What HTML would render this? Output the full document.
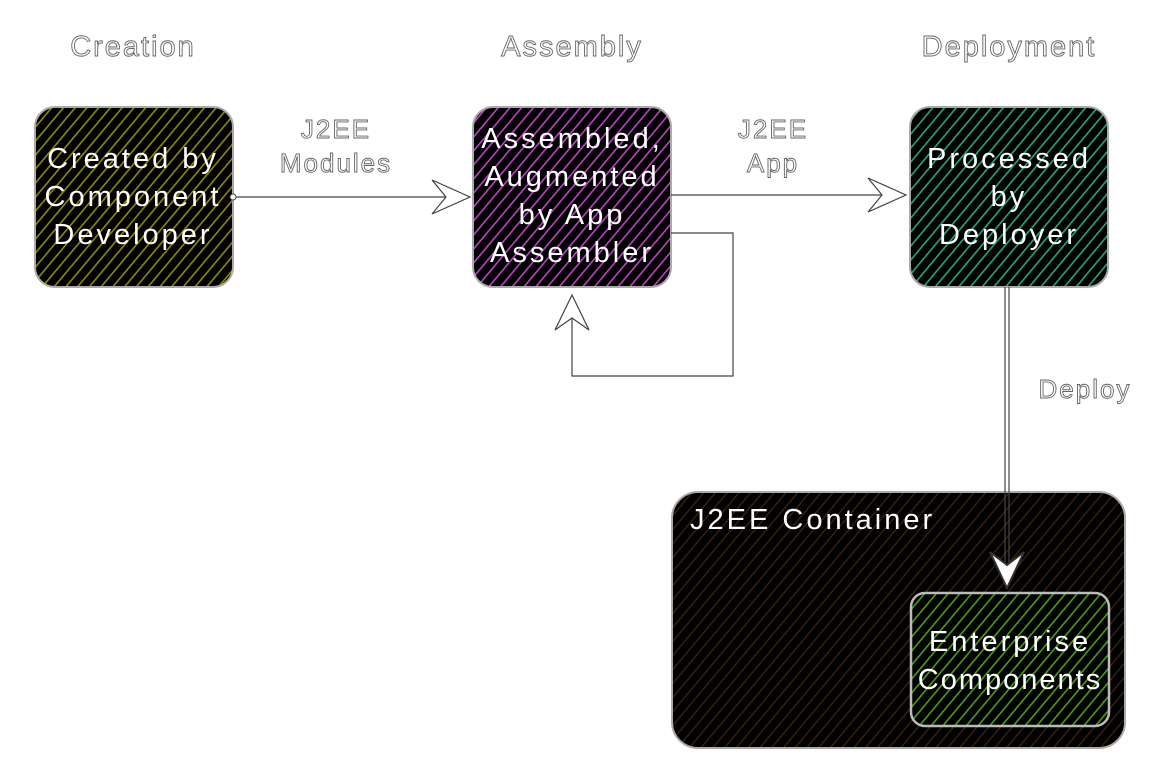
<!DOCTYPE html>
<html><head><meta charset="utf-8"><style>
html,body{margin:0;padding:0;background:#fff;}
svg{display:block;}
text{font-family:"Liberation Sans",sans-serif;}
.lbl{fill:#fff;stroke:#666;stroke-width:0.9;font-size:29px;text-anchor:middle;letter-spacing:2px;}
.in{fill:#fff;font-size:29px;text-anchor:middle;letter-spacing:3px;}
</style></head><body>
<svg width="1162" height="780" viewBox="0 0 1162 780" xmlns="http://www.w3.org/2000/svg">
<defs>
<pattern id="hy" width="9" height="9" patternUnits="userSpaceOnUse" patternTransform="rotate(40)"><rect width="9" height="9" fill="#000"/><rect width="1.6" height="9" fill="#8c8c00"/></pattern>
<pattern id="hp" width="9" height="9" patternUnits="userSpaceOnUse" patternTransform="rotate(40)"><rect width="9" height="9" fill="#000"/><rect width="1.6" height="9" fill="#c040c8"/></pattern>
<pattern id="ht" width="9" height="9" patternUnits="userSpaceOnUse" patternTransform="rotate(40)"><rect width="9" height="9" fill="#000"/><rect width="1.6" height="9" fill="#20a880"/></pattern>
<pattern id="hb" width="9" height="9" patternUnits="userSpaceOnUse" patternTransform="rotate(40)"><rect width="9" height="9" fill="#000"/><rect width="1.4" height="9" fill="#3a2208"/></pattern>
<pattern id="hg" width="9" height="9" patternUnits="userSpaceOnUse" patternTransform="rotate(40)"><rect width="9" height="9" fill="#000"/><rect width="1.6" height="9" fill="#48a010"/></pattern>
</defs>
<text class="lbl" x="133" y="56">Creation</text>
<text class="lbl" x="572" y="56">Assembly</text>
<text class="lbl" x="1009" y="56">Deployment</text>

<rect x="35" y="107" width="198" height="180" rx="20" fill="url(#hy)" stroke="#aaa" stroke-width="2"/>
<rect x="473" y="107" width="198" height="180" rx="20" fill="url(#hp)" stroke="#aaa" stroke-width="2"/>
<rect x="910" y="107" width="198" height="180" rx="20" fill="url(#ht)" stroke="#aaa" stroke-width="2"/>
<rect x="672" y="492" width="453" height="256" rx="26" fill="url(#hb)" stroke="#aaa" stroke-width="2"/>
<rect x="911" y="593" width="198" height="133" rx="14" fill="url(#hg)" stroke="#bbb" stroke-width="2.5"/>

<text class="in" x="133" y="168">Created by</text>
<text class="in" x="133" y="206">Component</text>
<text class="in" x="133" y="244">Developer</text>
<text class="in" x="572" y="148">Assembled,</text>
<text class="in" x="572" y="186">Augmented</text>
<text class="in" x="572" y="224">by App</text>
<text class="in" x="572" y="262">Assembler</text>
<text class="in" x="1009" y="168">Processed</text>
<text class="in" x="1009" y="206">by</text>
<text class="in" x="1009" y="244">Deployer</text>
<text class="in" x="690" y="529" style="text-anchor:start">J2EE Container</text>
<text class="in" x="1010" y="651">Enterprise</text>
<text class="in" x="1010" y="689" style="letter-spacing:2px">Components</text>

<g fill="none" stroke="#444" stroke-width="1.2">
<path d="M233 197 L468 197"/>
<path d="M432 180 L470 197 L432 214 L446 197 Z" fill="#fff"/>
<path d="M671 195 L905 195"/>
<path d="M868 178 L906 195 L868 212 L882 195 Z" fill="#fff"/>
<path d="M671 233 L733 233 L733 376 L572 376 L572 298"/>
<path d="M555 330 L572 295 L589 330 L572 318 Z" fill="#fff"/>
<path d="M1005 287 L1005 585 M1009 287 L1009 585"/>
<path d="M990 552 L1007 588 L1024 552 L1007 565 Z" fill="#fff" stroke="#333" stroke-width="2"/>
</g>
<circle cx="233" cy="197" r="3" fill="#fff" stroke="#444"/>
<text class="lbl" x="336" y="138" style="font-size:26px">J2EE</text>
<text class="lbl" x="336" y="172" style="font-size:26px">Modules</text>
<text class="lbl" x="773" y="138" style="font-size:26px">J2EE</text>
<text class="lbl" x="773" y="172" style="font-size:26px">App</text>
<text class="lbl" x="1085" y="398" style="font-size:26px">Deploy</text>
</svg>
</body></html>
